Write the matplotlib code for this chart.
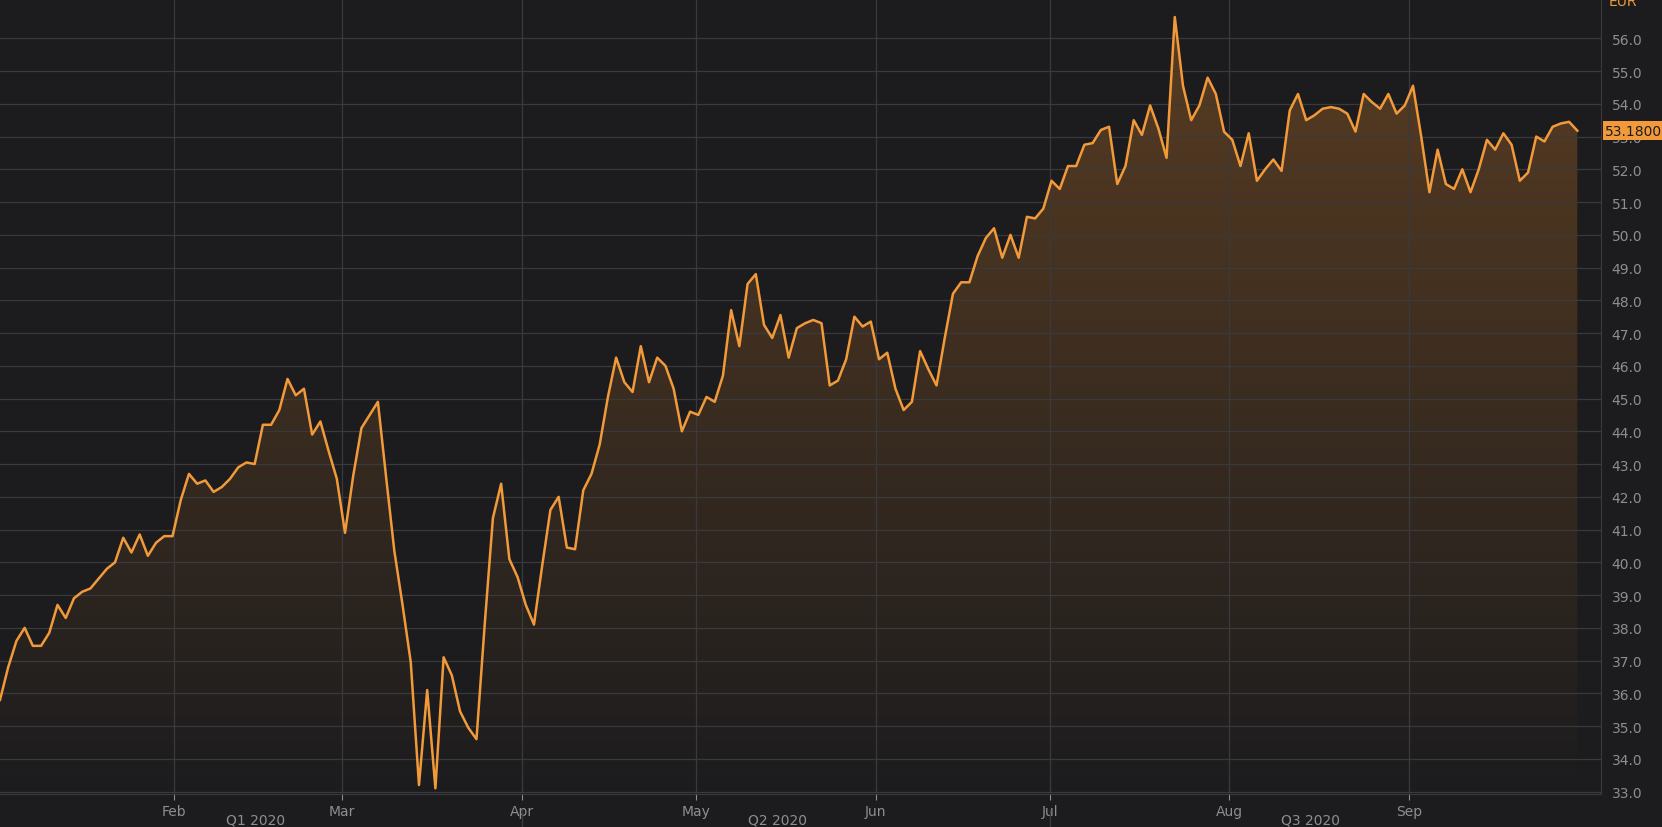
import matplotlib
matplotlib.use("Agg")
import matplotlib.pyplot as plt
import matplotlib.dates as mdates
import numpy as np
import pandas as pd

# daily closing prices, EUR
prices = [35.8, 36.8, 37.6, 38.0, 37.45, 37.45, 37.85, 38.7, 38.3, 38.9, 39.1, 39.2, 39.5, 39.8,
          40.0, 40.75, 40.3, 40.85, 40.2, 40.6, 40.8, 40.8, 41.9, 42.7, 42.4, 42.5, 42.15, 42.3,
          42.55, 42.9, 43.05, 43.0, 44.2, 44.2, 44.65, 45.6, 45.1, 45.3, 43.9, 44.3, 43.4, 42.55,
          40.9, 42.65, 44.1, 44.5, 44.9, 42.6, 40.35, 38.7, 36.95, 33.2, 36.1, 33.1, 37.1, 36.55,
          35.45, 34.95, 34.6, 38.1, 41.35, 42.4, 40.1, 39.55, 38.7, 38.1, 39.9, 41.6, 42.0, 40.45,
          40.4, 42.2, 42.7, 43.6, 45.05, 46.25, 45.5, 45.2, 46.6, 45.5, 46.25, 46.0, 45.3, 44.0,
          44.6, 44.5, 45.05, 44.9, 45.7, 47.7, 46.6, 48.5, 48.8, 47.25, 46.85, 47.55, 46.25, 47.15,
          47.3, 47.4, 47.3, 45.4, 45.55, 46.2, 47.5, 47.2, 47.35, 46.2, 46.4, 45.3, 44.65, 44.9,
          46.45, 45.9, 45.4, 46.85, 48.2, 48.55, 48.55, 49.35, 49.9, 50.2, 49.3, 50.0, 49.3, 50.55,
          50.5, 50.8, 51.65, 51.4, 52.1, 52.1, 52.75, 52.8, 53.2, 53.3, 51.55, 52.1, 53.5, 53.05,
          53.95, 53.25, 52.35, 56.65, 54.55, 53.5, 53.95, 54.8, 54.3, 53.15, 52.9, 52.1, 53.1,
          51.65, 52.0, 52.3, 51.95, 53.8, 54.3, 53.5, 53.65, 53.85, 53.9, 53.85, 53.7, 53.15,
          54.3, 54.05, 53.85, 54.3, 53.7, 53.95, 54.55, 53.0, 51.3, 52.6, 51.55, 51.4, 52.0, 51.3,
          52.0, 52.9, 52.6, 53.1, 52.75, 51.65, 51.9, 53.0, 52.85, 53.3, 53.4, 53.45, 53.18]
dates = pd.date_range("2020-01-02", "2020-09-30", periods=len(prices))
y_ticks = np.arange(33.0, 56.5, 1.0)
month_ticks = ["2020-02-01", "2020-03-01", "2020-04-01", "2020-05-01",
               "2020-06-01", "2020-07-01", "2020-08-01", "2020-09-01"]
quarters = [("Q1 2020", "2020-02-15"), ("Q2 2020", "2020-05-15"), ("Q3 2020", "2020-08-15")]
quarter_starts = ["2020-01-01", "2020-04-01", "2020-07-01"]

bg = "#1c1c1e"
grid_c = "#3a3a3c"
text_c = "#8e8e90"
orange = "#f29a3a"

fig = plt.figure(figsize=(16.62, 8.28), dpi=100, facecolor=bg)
ax = fig.add_axes([0, 0.04, 0.963, 0.96], facecolor=bg)
ymin, ymax = 32.93, 57.2
xmin = mdates.date2num(pd.Timestamp("2020-01-01"))
xmax = mdates.date2num(pd.Timestamp("2020-10-04"))

# gradient fill under the line
grad = np.linspace(0, 1, 256).reshape(-1, 1)
cmap = matplotlib.colors.LinearSegmentedColormap.from_list("g", [bg, "#5a3d22"])
poly = ax.fill_between(dates, prices, ymin, color="none")
img = ax.imshow(grad, cmap=cmap, aspect="auto", origin="lower",
                extent=[mdates.date2num(dates[0]), mdates.date2num(dates[-1]), ymin, ymax], zorder=1)
img.set_clip_path(poly.get_paths()[0], transform=ax.transData)
ax.plot(dates, prices, color=orange, lw=1.8, zorder=3)

ax.set_xlim(mdates.date2num(dates[0]) , xmax)
ax.set_ylim(ymin, ymax)
ax.set_yticks(y_ticks)
ax.set_xticks(pd.to_datetime(month_ticks))
ax.xaxis.set_major_formatter(mdates.DateFormatter("%b"))
ax.yaxis.tick_right()
ax.grid(True, color=grid_c, lw=0.9)
ax.tick_params(colors=text_c, labelsize=10, length=4)
ax.tick_params(axis="y", length=0, pad=8)
ax.tick_params(axis="x", pad=3)
for s in ["top", "left"]:
    ax.spines[s].set_visible(False)
ax.spines["bottom"].set_color(grid_c)
ax.spines["right"].set_color(grid_c)
ax.set_yticklabels([f"{v:.1f}" for v in y_ticks])
for lbl in ax.get_yticklabels() + ax.get_xticklabels():
    lbl.set_color(text_c)

# quarter labels and separators
for name, mid in quarters:
    ax.text(pd.Timestamp(mid), -0.032, name, transform=ax.get_xaxis_transform(),
            ha="center", va="center", color=text_c, fontsize=10)
for q in quarter_starts[1:]:
    ax.plot([pd.Timestamp(q)] * 2, [-0.05, -0.02], transform=ax.get_xaxis_transform(),
            color=grid_c, lw=1, clip_on=False)

# last price tag and currency
ax.text(1.003, (prices[-1] - ymin) / (ymax - ymin), f"{prices[-1]:.4f}",
        transform=ax.transAxes, ha="left", va="center", fontsize=10, color="#1c1c1e",
        bbox=dict(boxstyle="square,pad=0.2", fc=orange, ec="none"), zorder=5)
ax.text(1.005, 0.998, "EUR", transform=ax.transAxes, ha="left", va="center",
        color=orange, fontsize=10)

fig.savefig("out.png", facecolor=bg)
